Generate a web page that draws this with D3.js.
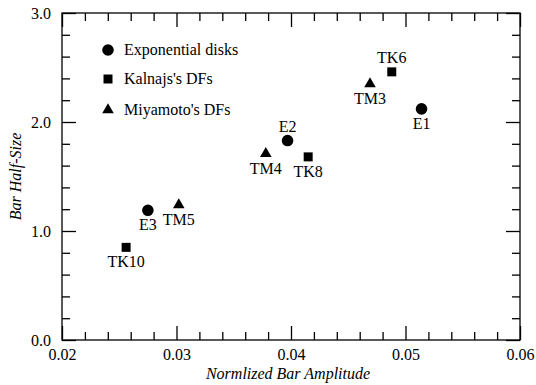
<!DOCTYPE html>
<html>
<head>
<meta charset="utf-8">
<script src="https://cdn.jsdelivr.net/npm/d3@7"></script>
<style>
  html, body { margin: 0; padding: 0; background: #fff; }
  svg { display: block; }
</style>
</head>
<body>
<svg id="chart" width="536" height="385"></svg>
<script>
// Model runs: normalized bar amplitude vs. bar half-size
const diskNames  = ["E1", "E2", "E3"];
const diskAmp    = [0.0514, 0.0397, 0.0275];
const diskSize   = [2.12, 1.83, 1.19];

const kalnajsNames = ["TK6", "TK8", "TK10"];
const kalnajsAmp   = [0.0488, 0.0415, 0.0256];
const kalnajsSize  = [2.46, 1.68, 0.85];

const miyaNames = ["TM3", "TM4", "TM5"];
const miyaAmp   = [0.0469, 0.0378, 0.0302];
const miyaSize  = [2.35, 1.71, 1.24];

const xTicks = [0.02, 0.03, 0.04, 0.05, 0.06];
const yTicks = [0.0, 1.0, 2.0, 3.0];
const legendLabels = ["Exponential disks", "Kalnajs's DFs", "Miyamoto's DFs"];

// label placement relative to the marker: "above" or "below"
const labelSide = {
  E1: "below", E2: "above", E3: "below",
  TK6: "above", TK8: "below", TK10: "below",
  TM3: "below", TM4: "below", TM5: "below"
};

const FONT = "Liberation Serif";
const svg = d3.select("#chart").attr("font-family", FONT);
const plotL = 62, plotR = 520, plotT = 13, plotB = 340;

const x = d3.scaleLinear().domain([0.02, 0.06]).range([plotL, plotR]);
const y = d3.scaleLinear().domain([0, 3]).range([plotB, plotT]);

const majorLen = 14, minorLen = 8;
const xMinor = d3.range(0.02, 0.0601, 0.002).filter(v => Math.abs(v * 100 - Math.round(v * 100)) > 1e-6);
const yMinor = d3.range(0, 3.001, 0.2).filter(v => Math.abs(v - Math.round(v)) > 1e-6);

function txt(sel, size, italic) {
  return sel.attr("font-family", FONT).style("font-family", FONT)
    .attr("font-size", size).attr("font-style", italic ? "italic" : "normal")
    .attr("fill", "#000");
}

// frame
svg.append("rect")
  .attr("x", plotL).attr("y", plotT)
  .attr("width", plotR - plotL).attr("height", plotB - plotT)
  .attr("fill", "none").attr("stroke", "#000").attr("stroke-width", 1.3);

// inward ticks on all four sides
function tickAxis(axisGen, scale, transform, vals, len) {
  const g = svg.append("g").attr("transform", transform)
    .call(axisGen(scale).tickValues(vals).tickSize(len).tickFormat(""));
  g.select(".domain").remove();
  g.selectAll(".tick line").attr("stroke", "#000").attr("stroke-width", 1.3);
  return g;
}
tickAxis(d3.axisTop, x, `translate(0,${plotB})`, xTicks, majorLen);
tickAxis(d3.axisTop, x, `translate(0,${plotB})`, xMinor, minorLen);
tickAxis(d3.axisBottom, x, `translate(0,${plotT})`, xTicks, majorLen);
tickAxis(d3.axisBottom, x, `translate(0,${plotT})`, xMinor, minorLen);
tickAxis(d3.axisRight, y, `translate(${plotL},0)`, yTicks, majorLen);
tickAxis(d3.axisRight, y, `translate(${plotL},0)`, yMinor, minorLen);
tickAxis(d3.axisLeft, y, `translate(${plotR},0)`, yTicks, majorLen);
tickAxis(d3.axisLeft, y, `translate(${plotR},0)`, yMinor, minorLen);

// tick labels
const xLab = svg.append("g").attr("transform", `translate(0,${plotB})`)
  .call(d3.axisBottom(x).tickValues(xTicks).tickSize(0).tickPadding(0).tickFormat(d3.format(".2f")));
xLab.select(".domain").remove();
xLab.attr("font-family", FONT);
txt(xLab.selectAll("text"), 16, false).attr("dy", null).attr("y", 20);

const yLab = svg.append("g").attr("transform", `translate(${plotL},0)`)
  .call(d3.axisLeft(y).tickValues(yTicks).tickSize(0).tickPadding(11).tickFormat(d3.format(".1f")));
yLab.select(".domain").remove();
yLab.attr("font-family", FONT);
txt(yLab.selectAll("text"), 16, false).attr("dy", "0.33em");

// axis titles
txt(svg.append("text"), 16, true)
  .attr("x", 288).attr("y", 379)
  .attr("text-anchor", "middle")
  .text("Normlized Bar Amplitude");
txt(svg.append("text"), 16, true)
  .attr("transform", `translate(21,${(plotT + plotB) / 2}) rotate(-90)`)
  .attr("text-anchor", "middle")
  .text("Bar Half-Size");

// markers
const circle = d3.symbol().type(d3.symbolCircle).size(Math.PI * 5.8 * 5.8);
const square = d3.symbol().type(d3.symbolSquare).size(9 * 9);
const triangle = d3.symbol().type(d3.symbolTriangle).size(58);

function series(names, amp, size, sym) {
  const data = names.map((n, i) => ({ name: n, a: amp[i], s: size[i] }));
  svg.append("g").selectAll("path").data(data).join("path")
    .attr("d", sym)
    .attr("transform", d => `translate(${x(d.a)},${y(d.s)})`)
    .attr("fill", "#000");
  txt(svg.append("g").selectAll("text").data(data).join("text"), 16, false)
    .attr("x", d => x(d.a))
    .attr("y", d => labelSide[d.name] === "above" ? y(d.s) - 9 : y(d.s) + 20)
    .attr("text-anchor", "middle")
    .text(d => d.name);
}
series(diskNames, diskAmp, diskSize, circle);
series(kalnajsNames, kalnajsAmp, kalnajsSize, square);
series(miyaNames, miyaAmp, miyaSize, triangle);

// legend
const legendSyms = [circle, square, triangle];
const legendY = [50, 79, 110];
legendLabels.forEach((lbl, i) => {
  svg.append("path").attr("d", legendSyms[i])
    .attr("transform", `translate(108,${legendY[i]})`).attr("fill", "#000");
  txt(svg.append("text"), 16, false).attr("x", 124).attr("y", legendY[i] + 5)
    .text(lbl);
});
</script>
</body>
</html>
